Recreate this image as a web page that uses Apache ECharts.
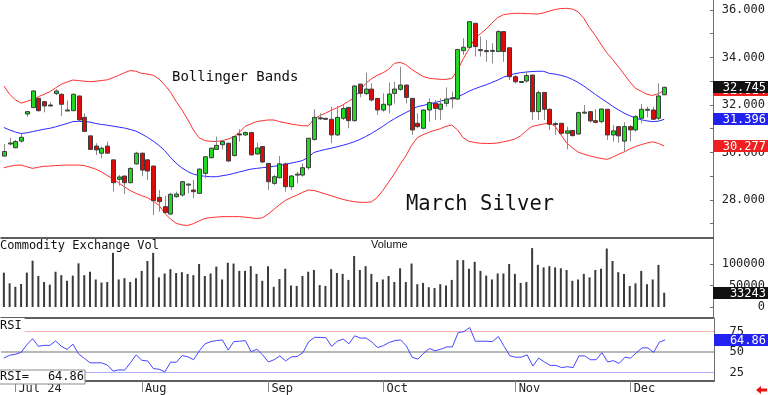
<!DOCTYPE html>
<html><head><meta charset="utf-8">
<script src="https://cdn.jsdelivr.net/npm/echarts@6/dist/echarts.min.js"></script>
<style>html,body{margin:0;padding:0;background:#fff;}#c{width:768px;height:395px;}</style>
</head><body><div id="c"></div><script>
// ---- data ----
const holidays = ['2024-07-04', '2024-09-02', '2024-11-28'];
const monthTickLabels = { '2024-07': 'Jul 24', '2024-08': 'Aug', '2024-09': 'Sep', '2024-10': 'Oct', '2024-11': 'Nov', '2024-12': 'Dec' };
const open = [29.85,30.36,30.20,30.48,31.62,31.89,32.28,32.14,32.00,32.48, 32.45,31.76,31.76,32.38,31.48,30.70,30.27,29.97,30.27,29.69, 28.87,29.01,28.73,29.52,29.97,29.69,29.43,28.11,27.72,27.41, 28.14,28.21,28.63,28.42,28.28,29.12,29.78,30.13,30.33,30.39, 29.87,30.78,30.74,30.84,29.94,30.25,29.54,28.70,28.94,29.52, 28.56,29.07,29.05,29.36,30.55,31.46,31.44,31.40,30.74,31.44, 31.90,31.34,32.88,32.48,32.67,32.28,31.79,32.00,32.49,32.66, 32.84,32.28,31.23,31.02,31.79,32.07,31.82,32.07,32.30,32.25, 34.29,34.43,35.44,34.33,34.29,34.27,34.25,35.09,34.41,33.19, 32.96,33.01,33.26,31.72,32.53,31.82,31.19,31.23,30.81,30.93, 30.78,31.66,31.72,31.34,31.30,31.82,30.74,31.09,30.48,31.09, 30.95,31.44,31.78,31.79,31.44,32.43];
const close = [30.04,30.40,30.46,30.64,31.72,32.59,31.76,31.96,31.96,32.59, 32.03,31.79,32.45,31.37,30.89,30.13,30.11,30.18,29.97,28.73, 28.97,28.73,29.33,29.97,29.26,29.22,27.97,27.93,27.47,28.24, 28.25,28.77,28.67,28.35,29.30,29.82,30.18,30.30,30.46,29.64, 30.67,30.74,30.84,29.90,30.19,29.60,28.77,28.98,29.52,28.56, 29.01,29.09,29.36,30.60,31.48,31.42,31.41,30.74,31.48,31.85, 31.34,32.80,32.49,32.67,32.21,31.79,32.03,32.46,32.67,32.84, 32.32,30.95,31.09,31.79,32.10,31.86,32.04,32.25,32.26,34.34, 34.43,35.51,34.46,34.30,34.27,34.30,35.09,34.25,33.19,32.98, 32.99,33.24,31.72,32.52,31.82,31.19,31.22,30.81,30.91,30.71, 31.68,31.70,31.33,31.27,31.83,30.74,30.91,30.70,31.09,30.95, 31.51,31.82,31.82,31.40,32.38,32.745];
const low = [29.83,30.29,30.18,30.41,31.50,31.88,31.72,31.69,31.95,32.42, 31.54,31.76,31.76,31.30,30.89,30.13,29.89,29.75,29.97,28.35, 28.60,28.25,28.70,29.47,29.00,28.84,27.37,27.51,27.44,27.37, 28.10,28.14,28.28,28.07,28.28,28.91,29.75,30.11,30.13,29.62, 29.83,30.46,30.70,29.87,29.90,29.55,28.42,28.63,28.91,28.35, 28.42,28.70,28.98,29.26,30.50,31.37,31.40,30.39,30.69,31.37, 31.02,31.30,32.32,32.42,32.14,31.58,31.72,31.65,32.07,32.60, 32.07,30.74,31.02,30.98,31.30,31.37,31.37,31.93,31.86,32.21, 34.11,34.39,34.04,34.04,33.82,33.75,34.25,33.82,33.05,32.91, 32.94,32.94,31.37,31.37,31.37,30.95,30.74,30.74,30.13,30.67, 30.74,31.62,31.26,31.23,31.23,30.53,30.46,30.41,30.03,30.46, 30.88,31.23,31.48,31.37,31.37,32.42];
const high = [30.36,30.62,30.53,30.78,31.72,32.63,32.31,32.17,32.11,32.66, 32.49,32.18,32.49,32.40,31.65,30.70,30.39,30.25,30.46,29.69, 29.05,29.01,29.38,30.03,30.00,29.72,29.45,28.42,28.17,28.31, 28.35,28.81,28.70,28.84,29.33,29.85,30.22,30.67,30.53,30.42, 30.70,30.98,30.88,30.87,30.41,30.28,29.55,29.05,29.85,29.57, 29.05,29.19,29.54,30.60,31.82,31.65,31.45,31.93,31.96,32.00, 31.90,32.84,32.88,33.36,32.91,32.28,32.49,32.94,32.98,33.61, 32.86,32.30,31.65,31.82,32.28,32.21,32.28,32.74,32.56,34.34, 34.81,35.51,35.44,34.88,34.74,34.60,35.16,35.09,34.41,33.26, 33.00,33.40,33.26,32.60,32.53,31.85,31.30,31.23,31.09,30.93, 31.72,32.00,31.72,31.82,31.86,31.82,31.16,31.09,31.27,31.16, 31.58,32.04,31.93,31.93,32.91,32.77];
const bbUpper = [32.80,32.45,32.22,32.08,32.15,32.24,32.35,32.45,32.56,32.72, 32.87,32.97,33.05,33.03,33.00,32.98,33.00,33.03,33.06,33.15, 33.25,33.36,33.45,33.42,33.33,33.30,33.25,33.10,32.85,32.55, 32.15,31.80,31.40,30.95,30.62,30.50,30.47,30.46,30.50,30.56, 30.65,30.85,31.10,31.20,31.30,31.34,31.37,31.37,31.30,31.25, 31.20,31.16,31.13,31.12,31.40,31.55,31.65,31.78,31.88,32.00, 32.15,32.30,32.60,32.90,33.10,33.25,33.35,33.50,33.75,33.80, 33.70,33.50,33.35,33.20,33.13,33.10,33.08,33.08,33.12,33.45, 33.95,34.35,34.80,35.00,35.20,35.45,35.68,35.80,35.84,35.86, 35.86,35.85,35.84,35.83,35.88,35.95,36.02,36.06,36.07,36.04, 35.93,35.65,35.25,34.93,34.55,34.20,33.92,33.62,33.30,32.98, 32.70,32.58,32.45,32.40,32.48,32.614];
const bbMiddle = [31.05,30.95,30.86,30.80,30.83,30.88,30.93,30.98,31.02,31.08, 31.15,31.22,31.30,31.31,31.30,31.28,31.22,31.18,31.15,31.11, 31.07,31.03,30.97,30.90,30.78,30.64,30.48,30.30,30.08,29.80, 29.55,29.35,29.20,29.09,29.03,29.00,28.98,28.98,29.02,29.06, 29.12,29.18,29.24,29.30,29.33,29.36,29.38,29.42,29.45,29.50, 29.55,29.60,29.66,29.80,30.00,30.07,30.13,30.18,30.24,30.30, 30.37,30.45,30.55,30.67,30.80,30.95,31.10,31.27,31.42,31.55, 31.68,31.80,31.93,31.98,32.04,32.10,32.16,32.22,32.28,32.35, 32.45,32.58,32.68,32.77,32.85,32.95,33.05,33.17,33.25,33.32, 33.36,33.39,33.41,33.42,33.42,33.33,33.30,33.25,33.18,33.08, 32.95,32.80,32.62,32.45,32.28,32.12,31.95,31.80,31.66,31.55, 31.45,31.38,31.33,31.30,31.32,31.396];
const bbLower = [29.36,29.42,29.46,29.47,29.40,29.33,29.38,29.42,29.43,29.45, 29.46,29.47,29.47,29.47,29.45,29.38,29.30,29.18,29.03,28.90, 28.72,28.55,28.40,28.28,28.18,28.10,27.95,27.78,27.45,27.20, 27.02,26.95,26.93,27.00,27.12,27.22,27.26,27.28,27.30,27.30, 27.30,27.30,27.28,27.25,27.22,27.25,27.40,27.60,27.80,27.98, 28.10,28.20,28.32,28.42,28.40,28.33,28.25,28.18,28.10,28.03, 27.97,27.93,27.90,27.90,27.92,28.10,28.40,28.75,29.10,29.50, 29.85,30.30,30.62,30.75,30.85,30.93,31.00,31.10,31.16,30.95, 30.62,30.47,30.42,30.39,30.38,30.38,30.40,30.45,30.50,30.57, 30.70,30.92,31.10,31.15,31.20,31.25,31.10,30.75,30.40,30.20, 30.02,29.93,29.86,29.80,29.75,29.71,29.80,29.92,30.02,30.15, 30.25,30.33,30.40,30.45,30.38,30.277];
const volume = [79800,55000,47000,53500,80000,107700,72000,58000,52000,82000, 74000,61000,73000,101600,74000,82000,64000,57000,58000,126000, 64000,67000,58000,67000,84000,107000,126000,69000,78000,88000, 79000,81000,77000,74000,100000,72000,78000,94000,64000,103000, 101000,84000,84000,95000,77000,61000,95000,47000,65000,89000, 50000,49000,72000,82000,86000,51000,49000,88000,79000,77000, 63000,118600,86000,95000,77000,58000,64000,72000,58000,90000, 58000,101000,53000,56000,46000,44000,53000,50000,63000,109000, 109000,89000,105000,84000,73000,64000,78000,78000,100000,77000, 56000,58000,137000,98000,92000,95000,92000,90000,86000,61000, 64000,77000,69000,86000,89000,136000,107000,81000,77000,49000, 55000,84000,53000,64000,98000,33243];
const rsi = [42.8,46.3,47.4,49.8,59.1,66.4,57.1,58.3,58.3,63.7, 57.1,53.3,59.8,47.8,42.4,37.0,37.0,37.0,34.3,26.9, 28.5,28.1,37.0,46.7,40.1,39.3,30.0,29.2,26.1,37.8, 37.8,45.9,44.3,40.8,51.7,60.2,62.9,64.1,64.9,52.5, 62.9,63.3,64.1,50.5,53.6,46.7,38.1,40.8,45.5,39.3, 44.3,44.7,49.4,62.6,68.0,68.0,67.6,57.1,63.3,66.0, 60.2,69.9,67.2,67.2,62.2,55.6,57.9,61.8,64.1,64.9, 57.5,43.9,41.6,48.6,54.4,51.7,53.6,56.4,56.4,73.8, 75.0,80.0,63.3,63.3,63.3,62.9,69.1,57.1,45.5,43.9, 43.9,46.7,33.1,42.8,38.1,33.9,33.9,31.2,32.3,31.2, 45.5,45.5,40.8,40.8,49.4,38.1,39.7,36.2,43.9,42.8, 49.4,55.2,55.2,49.8,62.2,64.86];
const priceTicks = [28, 30, 32, 34, 36];
const priceMinorTicks = [27, 28, 29, 30, 31, 32, 33, 34, 35, 36];
const volumeTicks = [0, 50000, 100000];
const rsiTicks = [25, 50, 75];
const rsiLevels = [75, 50, 25];

// ---- categories: trading days 2024-06-27 .. 2024-12-10 ----
function tradingDays(y0, m0, d0, y1, m1, d1) {
  const out = [];
  const d = new Date(Date.UTC(y0, m0 - 1, d0));
  const end = new Date(Date.UTC(y1, m1 - 1, d1));
  while (d <= end) {
    const wd = d.getUTCDay();
    const s = d.toISOString().slice(0, 10);
    if (wd !== 0 && wd !== 6 && holidays.indexOf(s) < 0) out.push(s);
    d.setUTCDate(d.getUTCDate() + 1);
  }
  return out;
}
const categories = tradingDays(2024, 6, 27, 2024, 12, 10);
const nReal = categories.length;
const axisCats = categories.slice();
for (let k = 0; k < 8; k++) axisCats.push('pad' + k);
const isMonthStart = axisCats.map((c, i) => i > 0 && i < nReal && c.slice(0, 7) !== axisCats[i - 1].slice(0, 7));
const last = nReal - 1;

const MONO = '"DejaVu Sans Mono", monospace';
const candleData = open.map((o, i) => [i, o, close[i], low[i], high[i]]);

function candleItem(params, api) {
  const i = api.value(0);
  const o = api.value(1), c = api.value(2), lo = api.value(3), hi = api.value(4);
  const pO = api.coord([i, o]), pC = api.coord([i, c]);
  const pH = api.coord([i, hi]), pL = api.coord([i, lo]);
  const cx = Math.round(pO[0]) + 0.5;
  const top = Math.min(pO[1], pC[1]), bot = Math.max(pO[1], pC[1]);
  const h = Math.max(bot - top, 1);
  const up = c >= o;
  return { type: 'group', children: [
    { type: 'line', shape: { x1: cx, y1: pH[1], x2: cx, y2: pL[1] }, style: { stroke: '#8a8a8a', lineWidth: 1 } },
    { type: 'rect', shape: { x: cx - 2, y: top, width: 4, height: h }, style: { fill: up ? '#22d822' : '#dd0a0a', stroke: '#3c3c3c', lineWidth: 1 } }
  ] };
}

function tag(gridIdx, value, text, color, z) {
  return {
    type: 'custom', xAxisIndex: gridIdx, yAxisIndex: gridIdx, z: z, silent: true, clip: false,
    data: [[last, value]],
    renderItem: function (params, api) {
      const p = api.coord([api.value(0), api.value(1)]);
      const right = params.coordSys.x + params.coordSys.width;
      const W = api.getWidth();
      const yc = Math.round(p[1]);
      return { type: 'group', children: [
        { type: 'rect', shape: { x: right, y: yc - 6, width: W - right, height: 12 }, style: { fill: color } },
        { type: 'text', style: { text: text, x: W - 2, y: yc + 0.5, align: 'right', verticalAlign: 'middle', fill: '#fff', font: '12px ' + MONO } }
      ] };
    }
  };
}

const gridLeft = 1, gridRight = 54;
const grids = [
  { left: gridLeft, right: gridRight, top: 0, height: 238 },
  { left: gridLeft, right: gridRight, top: 238, height: 80 },
  { left: gridLeft, right: gridRight, top: 318, height: 66 }
];

function xAxisFor(idx) {
  const base = {
    type: 'category', gridIndex: idx, data: axisCats, boundaryGap: true,
    axisLine: { show: true, onZero: false, lineStyle: { color: '#2a2a2a', width: 1.5 } },
    axisTick: { show: false }, axisLabel: { show: false }, splitLine: { show: false }
  };
  if (idx === 2) {
    base.axisTick = { show: true, alignWithLabel: true, length: 11, interval: (i) => isMonthStart[i], lineStyle: { color: '#8a8a8a' } };
    base.axisLabel = {
      show: true, interval: (i) => isMonthStart[i], align: 'left', padding: [0, 0, 0, 3], margin: 2,
      formatter: (v) => monthTickLabels[v.slice(0, 7)] || '',
      color: '#222', fontFamily: MONO, fontSize: 12
    };
  }
  return base;
}

function yAxisFor(idx, min, max, labels, ticks, fmt, margin) {
  return {
    type: 'value', gridIndex: idx, position: 'right', min: min, max: max, scale: true,
    axisLine: { show: true, lineStyle: { color: '#707070', width: 1 } },
    axisTick: { show: true, inside: true, length: 3, customValues: ticks, lineStyle: { color: '#707070' } },
    axisLabel: { show: true, customValues: labels, formatter: fmt, align: 'right', margin: margin, color: '#222', fontFamily: MONO, fontSize: 12 },
    splitLine: { show: false }
  };
}

const option = {
  animation: false,
  backgroundColor: '#ffffff',
  grid: grids,
  xAxis: [xAxisFor(0), xAxisFor(1), xAxisFor(2)],
  yAxis: [
    yAxisFor(0, 26.4, 36.421, priceTicks, priceMinorTicks, (v) => v.toFixed(3), 52),
    yAxisFor(1, -25581, 160465, volumeTicks, volumeTicks, (v) => String(v), 52),
    yAxisFor(2, 14.9, 91.6, rsiTicks, rsiTicks, (v) => String(v), 30)
  ],
  series: [
    { type: 'line', xAxisIndex: 0, yAxisIndex: 0, data: bbUpper, showSymbol: false, silent: true, lineStyle: { color: '#ff3030', width: 1 }, z: 2 },
    { type: 'line', xAxisIndex: 0, yAxisIndex: 0, data: bbLower, showSymbol: false, silent: true, lineStyle: { color: '#ff3030', width: 1 }, z: 2 },
    { type: 'line', xAxisIndex: 0, yAxisIndex: 0, data: bbMiddle, showSymbol: false, silent: true, lineStyle: { color: '#2a2aff', width: 1 }, z: 2 },
    { type: 'custom', xAxisIndex: 0, yAxisIndex: 0, data: candleData, renderItem: candleItem, encode: { x: 0, y: [1, 2, 3, 4] }, z: 3, silent: true },
    { type: 'bar', xAxisIndex: 1, yAxisIndex: 1, data: volume, barWidth: 2, itemStyle: { color: '#3a3a3a' }, silent: true },
    { type: 'line', xAxisIndex: 2, yAxisIndex: 2, data: rsi, showSymbol: false, silent: true, lineStyle: { color: '#4646ff', width: 1 }, z: 3,
      markLine: { silent: true, symbol: 'none', label: { show: false }, z: 1,
        data: [
          { yAxis: rsiLevels[0], lineStyle: { color: '#ffb0b0', width: 1, type: 'solid' } },
          { yAxis: rsiLevels[1], lineStyle: { color: '#b8b8b8', width: 2, type: 'solid' } },
          { yAxis: rsiLevels[2], lineStyle: { color: '#b0b0ff', width: 1, type: 'solid' } }
        ] } },
    tag(0, bbUpper[last], bbUpper[last].toFixed(3), '#f02020', 10),
    tag(0, close[last], close[last].toFixed(3), '#111111', 11),
    tag(0, bbMiddle[last], bbMiddle[last].toFixed(3), '#2222f0', 10),
    tag(0, bbLower[last], bbLower[last].toFixed(3), '#f02020', 10),
    tag(1, volume[last], String(volume[last]), '#111111', 10),
    tag(2, rsi[last], rsi[last].toFixed(2), '#2222f0', 10)
  ],
  graphic: [
    { type: 'text', x: 172, y: 77, z: 50, style: { text: 'Bollinger Bands', font: '14px ' + MONO, fill: '#111', verticalAlign: 'middle' } },
    { type: 'text', x: 406, y: 205, z: 50, style: { text: 'March Silver', font: '20.5px ' + MONO, fill: '#111', verticalAlign: 'middle' } },
    { type: 'text', x: 0, y: 246, z: 50, style: { text: 'Commodity Exchange Vol', font: '12px ' + MONO, fill: '#111', verticalAlign: 'middle' } },
    { type: 'text', x: 371, y: 245, z: 50, style: { text: 'Volume', font: '11px "Liberation Sans", Arial', fill: '#111', verticalAlign: 'middle' } },
    { type: 'text', x: -1, y: 326, z: 50, style: { text: 'RSI', font: '12px ' + MONO, fill: '#111', verticalAlign: 'middle', backgroundColor: '#fff', padding: [1, 3, 3, 1] } },
    { type: 'rect', z: 50, shape: { x: -1, y: 370, width: 86, height: 14 }, style: { fill: '#fff', stroke: '#8a8a8a', lineWidth: 1 } },
    { type: 'text', x: 0, y: 377, z: 51, style: { text: 'RSI=', font: '12px ' + MONO, fill: '#111', verticalAlign: 'middle' } },
    { type: 'text', x: 84, y: 377, z: 51, style: { text: rsi[last].toFixed(2), font: '12px ' + MONO, fill: '#111', verticalAlign: 'middle', align: 'right' } },
    { type: 'polygon', z: 50, shape: { points: [[756, 390], [761, 386], [761, 388.5], [767, 388.5], [767, 391.5], [761, 391.5], [761, 394]] }, style: { fill: '#ee1111' } }
  ]
};

const chart = echarts.init(document.getElementById('c'), null, { renderer: 'canvas' });
chart.setOption(option);
</script></body></html>
